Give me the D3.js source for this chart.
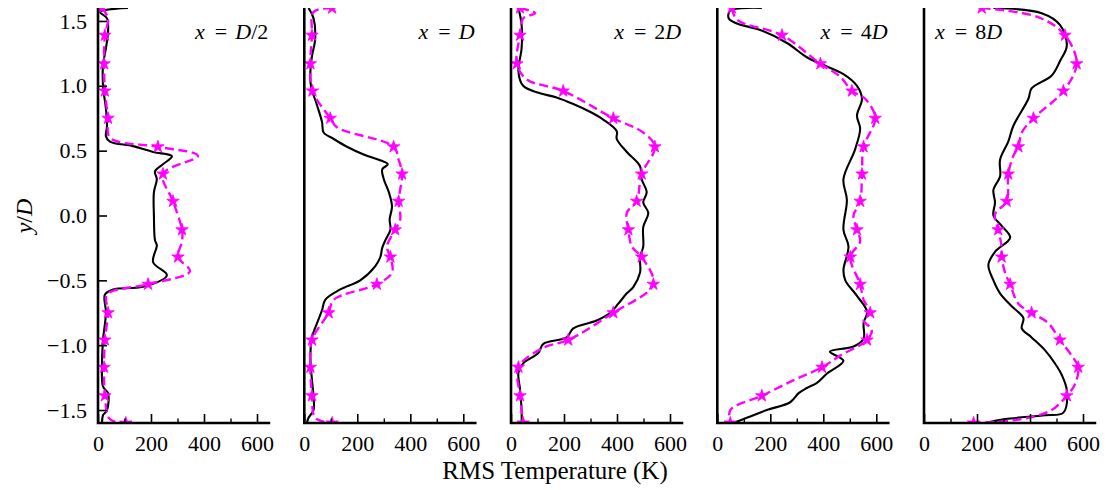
<!DOCTYPE html>
<html><head><meta charset="utf-8">
<script src="https://cdn.jsdelivr.net/npm/d3@7"></script>
<style>
body{margin:0;background:#fff}svg{display:block}
svg text{font-family:"Liberation Serif","DejaVu Serif",serif !important;}
</style>
</head><body><svg id="c" width="1106" height="490"></svg>
<script>
// ---------------- data ----------------
const stations = ["D/2", "D", "2D", "4D", "8D"];
const xTicks = [0, 200, 400, 600];
const xMinorTicks = [100, 300, 500];
const yTicks = [-1.5, -1.0, -0.5, 0.0, 0.5, 1.0, 1.5];
const xLabel = "RMS Temperature (K)";

// solid black curves: [T (K), y/D]
const solid_D2 = [[113,1.6],[8,1.57],[34,1.52],[38,1.42],[30,1.29],[19,1.16],[19,1.0],[30,0.82],[34,0.69],[30,0.61],[45,0.57],[132,0.535],[208,0.49],[279,0.457],[245,0.395],[215,0.34],[222,0.28],[211,0.18],[211,0.0],[215,-0.19],[222,-0.23],[208,-0.36],[260,-0.46],[170,-0.55],[57,-0.57],[26,-0.61],[30,-0.75],[19,-0.96],[15,-1.17],[19,-1.32],[38,-1.37],[34,-1.5],[19,-1.54],[15,-1.6]];
const solid_D  = [[16,1.6],[35,1.52],[41,1.36],[29,1.23],[23,1.11],[25,1.0],[48,0.85],[67,0.72],[73,0.64],[111,0.59],[161,0.53],[224,0.47],[281,0.43],[315,0.395],[294,0.356],[300,0.28],[319,0.18],[331,0.07],[322,-0.03],[325,-0.11],[306,-0.19],[294,-0.25],[287,-0.32],[268,-0.39],[211,-0.5],[136,-0.57],[79,-0.65],[67,-0.73],[48,-0.83],[29,-0.94],[23,-1.09],[29,-1.27],[35,-1.4],[35,-1.5],[16,-1.56],[10,-1.6]];
const solid_2D = [[28,1.6],[40,1.47],[40,1.29],[28,1.11],[46,1.0],[97,0.95],[172,0.91],[235,0.86],[298,0.8],[348,0.74],[399,0.65],[399,0.59],[437,0.49],[487,0.38],[493,0.28],[512,0.18],[499,0.1],[518,0.02],[499,-0.09],[499,-0.24],[487,-0.32],[487,-0.44],[462,-0.55],[437,-0.6],[405,-0.68],[374,-0.75],[323,-0.81],[235,-0.87],[210,-0.94],[122,-0.99],[103,-1.06],[46,-1.14],[28,-1.21],[34,-1.34],[40,-1.5],[40,-1.6]];
const solid_4D = [[168,1.6],[49,1.58],[43,1.52],[74,1.48],[162,1.43],[263,1.33],[338,1.22],[401,1.16],[476,1.09],[527,1.0],[546,0.9],[527,0.77],[539,0.67],[520,0.51],[476,0.28],[489,0.12],[476,-0.11],[495,-0.24],[476,-0.42],[483,-0.5],[527,-0.62],[565,-0.74],[552,-0.83],[552,-0.95],[514,-1.01],[425,-1.05],[476,-1.12],[413,-1.22],[376,-1.29],[338,-1.33],[307,-1.37],[275,-1.44],[187,-1.5],[111,-1.56],[61,-1.6]];
const solid_8D = [[262,1.6],[444,1.56],[513,1.47],[539,1.31],[513,1.19],[482,1.08],[406,0.98],[394,0.9],[337,0.69],[318,0.57],[287,0.43],[287,0.3],[262,0.2],[268,0.1],[262,0.0],[293,-0.08],[325,-0.17],[268,-0.28],[243,-0.38],[262,-0.5],[287,-0.6],[331,-0.7],[375,-0.79],[369,-0.87],[406,-0.94],[457,-1.04],[494,-1.14],[520,-1.23],[539,-1.35],[526,-1.52],[457,-1.54],[306,-1.57],[230,-1.6]];

// dashed magenta curves: [T (K), y/D, star marker?]
const dashed_D2 = [[15,1.6,1],[38,1.52],[26,1.39,1],[23,1.17,1],[26,0.96,1],[38,0.75,1],[45,0.6],[226,0.53,1],[377,0.46],[245,0.32,1],[283,0.11,1],[317,-0.11,1],[317,-0.2],[302,-0.32,1],[347,-0.43],[189,-0.53,1],[34,-0.61],[38,-0.75,1],[26,-0.96,1],[23,-1.17,1],[26,-1.39,1],[45,-1.57],[105,-1.6,1]];
const dashed_D  = [[105,1.6,1],[35,1.57],[29,1.39,1],[23,1.17,1],[31,0.96,1],[98,0.75,1],[123,0.68],[337,0.53,1],[356,0.43],[369,0.32,1],[356,0.11,1],[362,-0.03],[343,-0.11,1],[312,-0.24],[325,-0.32,1],[331,-0.44],[274,-0.53,1],[111,-0.65],[92,-0.75,1],[29,-0.96,1],[23,-1.17,1],[29,-1.39,1],[41,-1.56],[105,-1.6,1]];
const dashed_2D = [[34,1.6,1],[91,1.56],[46,1.52],[34,1.39,1],[22,1.17,1],[59,1.05],[197,0.96,1],[386,0.75,1],[499,0.64],[543,0.53,1],[493,0.32,1],[474,0.11,1],[437,0.02],[443,-0.11,1],[456,-0.24],[493,-0.32,1],[537,-0.53,1],[386,-0.75,1],[216,-0.96,1],[122,-1.02],[28,-1.17,1],[34,-1.39,1],[46,-1.6,1]];
const dashed_4D = [[55,1.6,1],[74,1.51],[244,1.39,1],[389,1.17,1],[464,1.07],[508,0.96,1],[558,0.9],[596,0.75,1],[552,0.53,1],[546,0.32,1],[539,0.11,1],[514,0.0],[527,-0.11,1],[539,-0.2],[502,-0.32,1],[539,-0.53,1],[552,-0.65],[577,-0.75,1],[552,-0.81],[583,-0.88],[565,-0.96,1],[464,-1.08],[395,-1.17,1],[288,-1.27],[168,-1.39,1],[49,-1.5],[49,-1.6,1]];
const dashed_8D = [[218,1.6,1],[431,1.53],[532,1.39,1],[576,1.17,1],[526,0.96,1],[413,0.75,1],[369,0.64],[356,0.53,1],[337,0.46],[318,0.32,1],[312,0.11,1],[268,0.01],[280,-0.11,1],[293,-0.24],[293,-0.32,1],[306,-0.44],[325,-0.53,1],[356,-0.68],[406,-0.75,1],[469,-0.83],[513,-0.96,1],[557,-1.08],[582,-1.17,1],[570,-1.3],[539,-1.39,1],[482,-1.5],[369,-1.57],[187,-1.6,1]];

const solidSeries = [solid_D2, solid_D, solid_2D, solid_4D, solid_8D];
const dashedSeries = [dashed_D2, dashed_D, dashed_2D, dashed_4D, dashed_8D];

// ---------------- drawing ----------------
const svg = d3.select("#c");
const panelLeft = [98, 304.3, 511, 717.3, 924];
const panelW = 172.25, yTop = 8, yBottom = 423;
const y = d3.scaleLinear().domain([-1.6, 1.6]).range([yBottom, yTop]);

stations.forEach((st, i) => {
  const x0 = panelLeft[i];
  const x = d3.scaleLinear().domain([0, 650]).range([x0, x0 + panelW]);
  const g = svg.append("g");
  const clipId = "clip" + i;
  svg.append("clipPath").attr("id", clipId).append("rect")
    .attr("x", x0).attr("y", yTop).attr("width", panelW).attr("height", yBottom - yTop);

  const line = d3.line().x(d => x(d[0])).y(d => y(d[1])).curve(d3.curveCatmullRom.alpha(0.5));
  const plot = g.append("g").attr("clip-path", `url(#${clipId})`);
  plot.append("path").datum(solidSeries[i]).attr("d", line)
    .attr("fill", "none").attr("stroke", "#000").attr("stroke-width", 2.1).attr("stroke-linejoin", "round");
  plot.append("path").datum(dashedSeries[i]).attr("d", line)
    .attr("fill", "none").attr("stroke", "#ff00ff").attr("stroke-width", 2.4)
    .attr("stroke-dasharray", "9,4.5").attr("stroke-linejoin", "round");
  plot.selectAll("path.star").data(dashedSeries[i].filter(d => d[2])).enter()
    .append("path").attr("class", "star")
    .attr("d", d3.symbol().type(d3.symbolStar).size(48))
    .attr("transform", d => `translate(${x(d[0])},${y(d[1])})`)
    .attr("fill", "#ff00ff").attr("stroke", "#ff00ff").attr("stroke-width", 0.8);

  // x axis (ticks inward)
  const xa = g.append("g").attr("transform", `translate(0,${yBottom})`)
    .call(d3.axisBottom(x).tickValues(xTicks).tickFormat(d3.format("d")).tickSizeInner(-9).tickSizeOuter(0).tickPadding(12));
  xa.attr("font-family", null).attr("font-size", null);
  xa.select(".domain").remove();
  xa.selectAll("line").attr("stroke", "#000").attr("stroke-width", 1.6);
  xa.selectAll("text").attr("font-size", 22).attr("fill", "#000");
  const xm = g.append("g").attr("transform", `translate(0,${yBottom})`)
    .call(d3.axisBottom(x).tickValues(xMinorTicks).tickFormat("").tickSizeInner(-4.5).tickSizeOuter(0));
  xm.select(".domain").remove();
  xm.selectAll("line").attr("stroke", "#000").attr("stroke-width", 1.4);

  if (i === 0) {
    const ya = g.append("g").attr("transform", `translate(${x0},0)`)
      .call(d3.axisLeft(y).tickValues(yTicks).tickFormat(d3.format(".1f")).tickSizeInner(-9).tickSizeOuter(0).tickPadding(11));
    ya.attr("font-family", null).attr("font-size", null);
    ya.select(".domain").remove();
    ya.selectAll("line").attr("stroke", "#000").attr("stroke-width", 1.6);
    ya.selectAll("text").attr("font-size", 22).attr("fill", "#000");
  }

  // spines
  g.append("path").attr("d", `M${x0},${yTop}V${yBottom}H${x0 + panelW}`)
    .attr("fill", "none").attr("stroke", "#000").attr("stroke-width", 2.6).attr("stroke-linecap", "butt");

  // station label
  const t = g.append("text").attr("y", 39).attr("font-size", 22).attr("fill", "#000");
  if (i < 4) t.attr("x", x0 + panelW - 2).attr("text-anchor", "end");
  else t.attr("x", x0 + 11).attr("text-anchor", "start");
  t.append("tspan").attr("font-style", "italic").text("x");
  t.append("tspan").attr("dx", 10).text("=");
  const m = st.match(/^(\d*)D(\/\d+)?$/);
  if (m[1]) t.append("tspan").attr("dx", 8).text(m[1]);
  t.append("tspan").attr("dx", m[1] ? 0 : 8).attr("font-style", "italic").text("D");
  if (m[2]) t.append("tspan").text(m[2]);
});

// axis titles
svg.append("text").attr("x", 555).attr("y", 479).attr("text-anchor", "middle")
  .attr("font-size", 25).attr("fill", "#000").text(xLabel);
const yl = svg.append("text").attr("transform", "translate(32,216) rotate(-90)").attr("text-anchor", "middle")
  .attr("font-size", 24).attr("fill", "#000");
yl.append("tspan").attr("font-style", "italic").text("y");
yl.append("tspan").text("/");
yl.append("tspan").attr("font-style", "italic").text("D");
</script>
</body></html>
